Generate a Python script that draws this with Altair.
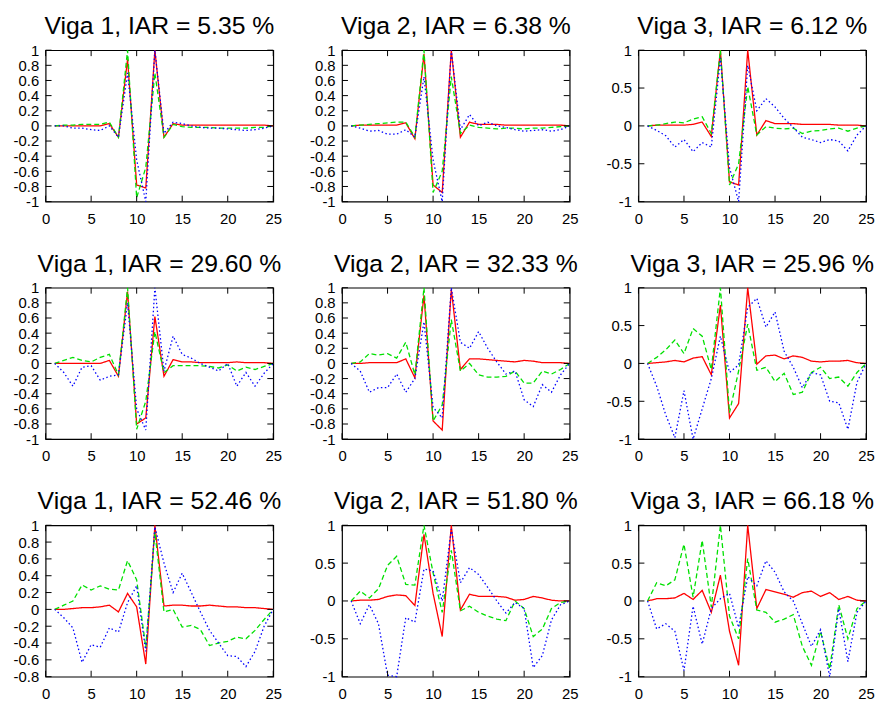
import altair as alt
import pandas as pd

X = list(range(1, 26))
X_TICKS = [0, 5, 10, 15, 20, 25]
Y_TICKS_02 = [-1, -0.8, -0.6, -0.4, -0.2, 0, 0.2, 0.4, 0.6, 0.8, 1]
Y_TICKS_05 = [-1, -0.5, 0, 0.5, 1]
Y_TICKS_08 = [-0.8, -0.6, -0.4, -0.2, 0, 0.2, 0.4, 0.6, 0.8, 1]

TITLES = [
    "Viga 1, IAR = 5.35 %", "Viga 2, IAR = 6.38 %", "Viga 3, IAR = 6.12 %",
    "Viga 1, IAR = 29.60 %", "Viga 2, IAR = 32.33 %", "Viga 3, IAR = 25.96 %",
    "Viga 1, IAR = 52.46 %", "Viga 2, IAR = 51.80 %", "Viga 3, IAR = 66.18 %",
]

# Row 1
P1_RED = [0, 0, 0, 0, 0, 0, 0.03, -0.15, 0.88, -0.78, -0.82, 1.0, -0.15, 0.03, 0.01, 0.01, 0.01, 0.01, 0.01, 0.01, 0.01, 0.01, 0.01, 0.01, 0]
P1_GREEN = [0, 0.01, 0.01, 0.02, 0.02, 0.02, 0.05, -0.15, 1.0, -0.95, -0.55, 0.7, -0.15, 0.02, -0.01, -0.02, -0.02, -0.02, -0.03, -0.03, -0.03, -0.03, -0.02, -0.02, 0]
P1_BLUE = [0, 0, -0.03, -0.03, -0.05, -0.06, 0.0, -0.15, 0.7, -0.45, -1.0, 1.0, -0.1, 0.05, 0.03, 0.0, -0.02, -0.03, -0.03, -0.04, -0.05, -0.06, -0.05, -0.03, 0]

P2_RED = [0, 0.01, 0.01, 0.01, 0.01, 0.01, 0.04, -0.17, 0.95, -0.78, -0.88, 1.0, -0.15, 0.05, 0.02, 0.02, 0.02, 0.01, 0.01, 0.01, 0.01, 0.01, 0.01, 0.01, 0]
P2_GREEN = [0, 0.01, 0.02, 0.03, 0.04, 0.05, 0.05, -0.15, 1.0, -0.88, -0.6, 0.65, -0.1, 0.01, -0.02, -0.03, -0.04, -0.03, -0.03, -0.04, -0.03, -0.03, -0.02, -0.01, 0]
P2_BLUE = [0, -0.03, -0.07, -0.06, -0.11, -0.11, -0.05, -0.15, 0.65, -0.45, -1.0, 1.0, -0.05, 0.15, 0.0, 0.05, 0.0, -0.02, -0.05, -0.07, -0.06, -0.05, -0.07, -0.05, 0]

P3_RED = [0, 0.01, 0.01, 0.01, 0.01, 0.02, 0.05, -0.14, 1.0, -0.74, -0.78, 1.0, -0.12, 0.07, 0.03, 0.03, 0.03, 0.02, 0.02, 0.02, 0.02, 0.01, 0.01, 0.01, 0]
P3_GREEN = [0, 0.01, 0.03, 0.05, 0.04, 0.09, 0.12, -0.1, 1.0, -0.78, -0.5, 0.52, -0.12, -0.01, -0.03, -0.04, -0.03, -0.1, -0.07, -0.06, -0.04, -0.03, -0.07, -0.03, 0]
P3_BLUE = [0, -0.06, -0.13, -0.28, -0.18, -0.34, -0.22, -0.28, 0.9, -0.55, -1.0, 0.8, 0.2, 0.36, 0.25, 0.1, -0.02, -0.15, -0.18, -0.22, -0.18, -0.2, -0.33, -0.12, 0]

# Row 2
P4_RED = [0, 0, 0, 0, 0, 0, 0.04, -0.17, 0.95, -0.8, -0.72, 0.62, -0.17, 0.05, 0.02, 0.02, 0.01, 0.01, 0.01, 0.01, 0.02, 0.01, 0.01, 0.01, 0]
P4_GREEN = [0, 0.04, 0.08, 0.04, 0.02, 0.08, 0.12, -0.15, 1.0, -0.87, -0.5, 0.42, -0.12, -0.03, -0.03, -0.03, -0.03, -0.04, -0.06, -0.02, -0.1, -0.05, -0.08, -0.04, 0]
P4_BLUE = [0, -0.12, -0.3, -0.05, -0.03, -0.22, -0.17, -0.15, 0.8, -0.6, -0.88, 1.0, -0.1, 0.36, 0.12, 0.07, 0.0, -0.05, -0.1, 0.0, -0.3, -0.12, -0.3, -0.13, 0]

P5_RED = [0, 0.0, 0.01, 0.01, 0.01, 0.01, 0.06, -0.19, 0.9, -0.76, -0.88, 0.98, -0.08, 0.06, 0.06, 0.05, 0.04, 0.03, 0.02, 0.04, 0.03, 0.01, 0.01, 0.01, 0]
P5_GREEN = [0, 0.02, 0.13, 0.11, 0.13, 0.07, 0.28, -0.15, 1.0, -0.76, -0.55, 0.58, -0.1, 0.0, -0.15, -0.18, -0.18, -0.17, -0.1, -0.26, -0.26, -0.1, -0.14, -0.08, 0]
P5_BLUE = [0, -0.1, -0.38, -0.32, -0.32, -0.14, -0.38, -0.2, 0.55, -0.58, -0.72, 1.0, 0.28, 0.2, 0.42, 0.2, 0.02, -0.14, -0.1, -0.48, -0.57, -0.28, -0.38, -0.15, 0]

P6_RED = [0, 0.01, 0.02, 0.04, 0.02, 0.07, 0.09, -0.15, 0.77, -0.72, -0.53, 1.0, -0.01, 0.1, 0.11, 0.06, 0.1, 0.08, 0.03, 0.02, 0.03, 0.03, 0.04, 0.01, 0]
P6_GREEN = [0, 0.08, 0.18, 0.31, 0.13, 0.46, 0.36, -0.08, 1.0, -0.65, -0.1, 0.52, -0.09, -0.05, -0.24, -0.13, -0.41, -0.38, -0.12, -0.05, -0.2, -0.18, -0.3, -0.12, 0]
P6_BLUE = [0, -0.3, -0.68, -0.98, -0.36, -1.0, -0.6, -0.2, 0.36, -0.12, -0.02, 0.74, 0.86, 0.48, 0.68, 0.16, -0.05, -0.32, -0.12, -0.15, -0.5, -0.52, -0.87, -0.25, 0]

# Row 3
P7_RED = [0, 0.0, 0.01, 0.02, 0.02, 0.03, 0.05, -0.03, 0.19, 0.03, -0.65, 1.0, 0.04, 0.05, 0.05, 0.04, 0.04, 0.05, 0.04, 0.03, 0.03, 0.02, 0.02, 0.01, 0]
P7_GREEN = [0, 0.05, 0.1, 0.29, 0.23, 0.28, 0.24, 0.23, 0.58, 0.35, -0.45, 0.92, -0.03, 0.0, -0.21, -0.19, -0.24, -0.43, -0.4, -0.38, -0.33, -0.35, -0.25, -0.12, 0]
P7_BLUE = [0, -0.1, -0.22, -0.63, -0.42, -0.45, -0.22, -0.27, 0.08, 0.28, -0.5, 0.98, 0.55, 0.2, 0.43, 0.2, -0.03, -0.25, -0.4, -0.55, -0.56, -0.68, -0.5, -0.2, 0]

P8_RED = [0, 0.01, 0.01, 0.02, 0.06, 0.08, 0.07, -0.06, 0.88, 0.1, -0.47, 1.0, -0.12, 0.09, 0.06, 0.06, 0.06, 0.05, 0.01, 0.02, 0.06, 0.04, 0.01, 0.0, 0]
P8_GREEN = [0, 0.13, 0.04, 0.16, 0.47, 0.59, 0.22, 0.21, 1.0, 0.37, -0.15, 0.67, -0.13, -0.07, -0.15, -0.2, -0.24, -0.26, 0.0, -0.1, -0.47, -0.37, -0.1, -0.02, 0]
P8_BLUE = [0, -0.3, -0.05, -0.3, -0.98, -1.0, -0.22, -0.28, 0.42, 0.4, 0.0, 0.95, 0.24, 0.44, 0.35, 0.18, 0.0, -0.16, -0.02, -0.1, -0.88, -0.72, -0.25, -0.05, 0]

P9_RED = [0, 0.03, 0.03, 0.04, 0.1, 0.02, 0.14, -0.15, 0.34, -0.4, -0.85, 1.0, -0.1, 0.15, 0.12, 0.09, 0.05, 0.11, 0.13, 0.06, 0.11, 0.02, 0.06, 0.01, 0]
P9_GREEN = [0, 0.24, 0.2, 0.28, 0.75, 0.05, 0.8, -0.08, 1.0, -0.2, -0.5, 0.56, -0.12, -0.15, -0.28, -0.24, -0.18, -0.6, -0.85, -0.4, -0.9, -0.05, -0.5, -0.1, 0]
P9_BLUE = [0, -0.37, -0.3, -0.4, -0.92, -0.07, -0.57, -0.1, 0.03, 0.1, -0.35, 0.32, 0.2, 0.53, 0.38, 0.12, 0.0, -0.3, -0.6, -0.38, -1.0, -0.1, -0.8, -0.15, 0]

PANELS = [
    (P1_RED, P1_GREEN, P1_BLUE, Y_TICKS_02, [-1, 1]),
    (P2_RED, P2_GREEN, P2_BLUE, Y_TICKS_02, [-1, 1]),
    (P3_RED, P3_GREEN, P3_BLUE, Y_TICKS_05, [-1, 1]),
    (P4_RED, P4_GREEN, P4_BLUE, Y_TICKS_02, [-1, 1]),
    (P5_RED, P5_GREEN, P5_BLUE, Y_TICKS_02, [-1, 1]),
    (P6_RED, P6_GREEN, P6_BLUE, Y_TICKS_05, [-1, 1]),
    (P7_RED, P7_GREEN, P7_BLUE, Y_TICKS_08, [-0.8, 1]),
    (P8_RED, P8_GREEN, P8_BLUE, Y_TICKS_05, [-1, 1]),
    (P9_RED, P9_GREEN, P9_BLUE, Y_TICKS_05, [-1, 1]),
]

W, H = 230, 153
TICK = 6
FONT = "Liberation Sans"


def panel(title, red, green, blue, yticks, ydom):
    xs = alt.Scale(domain=[0, 25], nice=False, zero=False)
    ys = alt.Scale(domain=ydom, nice=False, zero=False)
    xaxis = alt.Axis(values=X_TICKS, ticks=False, domain=False, grid=False,
                     labelFontSize=15, labelPadding=10, title=None, labelFlush=False)
    yaxis = alt.Axis(values=yticks, ticks=False, domain=False, grid=False,
                     labelFontSize=15, labelPadding=7, title=None,
                     labelExpr="'' + datum.value", labelFlush=False)

    layers = []
    for vals, col, dash in [(red, "#ff0000", [1, 0]), (green, "#00e000", [5, 3]), (blue, "#0000ff", [1.5, 2.5])]:
        df = pd.DataFrame({"x": X, "y": vals})
        layers.append(
            alt.Chart(df).mark_line(color=col, strokeDash=dash, strokeWidth=1.3).encode(
                x=alt.X("x:Q", scale=xs, axis=xaxis),
                y=alt.Y("y:Q", scale=ys, axis=yaxis),
            )
        )

    xt = pd.DataFrame({"x": X_TICKS})
    yt = pd.DataFrame({"y": yticks})
    tick_style = dict(color="black", strokeWidth=1)
    layers.append(alt.Chart(xt).mark_rule(**tick_style).encode(
        x=alt.X("x:Q", scale=xs, axis=xaxis), y=alt.value(H), y2=alt.value(H - TICK)))
    layers.append(alt.Chart(xt).mark_rule(**tick_style).encode(
        x=alt.X("x:Q", scale=xs, axis=xaxis), y=alt.value(0), y2=alt.value(TICK)))
    layers.append(alt.Chart(yt).mark_rule(**tick_style).encode(
        y=alt.Y("y:Q", scale=ys, axis=yaxis), x=alt.value(0), x2=alt.value(TICK)))
    layers.append(alt.Chart(yt).mark_rule(**tick_style).encode(
        y=alt.Y("y:Q", scale=ys, axis=yaxis), x=alt.value(W - TICK), x2=alt.value(W)))

    return alt.layer(*layers).properties(
        width=W, height=H,
        title=alt.Title(title, font=FONT, fontSize=25, fontWeight="normal",
                        color="black", anchor="middle", frame="group", offset=4),
    )


charts = [panel(t, *p) for t, p in zip(TITLES, PANELS)]

chart = alt.concat(*charts, columns=3, spacing={"row": 87, "column": 69.5}, bounds="flush").properties(
    padding={"left": 4, "top": 2, "right": 0, "bottom": 0}
).configure_axis(
    labelFont=FONT, labelColor="black"
).configure_view(
    stroke="black", strokeWidth=1.2
)

chart.save("out.html", embed_options={"renderer": "svg", "actions": False})
